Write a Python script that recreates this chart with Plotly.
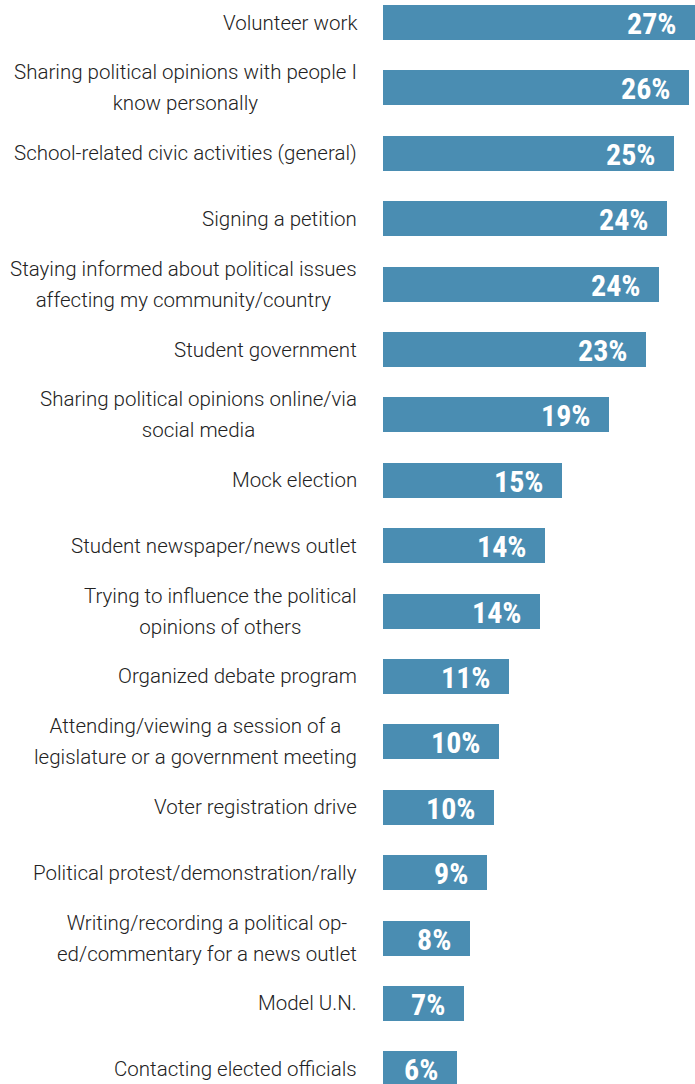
import plotly.graph_objects as go

# Share of respondents who took part in each civic activity (%)
activities = [
    "Volunteer work",
    "Sharing political opinions with people I<br>know personally",
    "School-related civic activities (general)",
    "Signing a petition",
    "Staying informed about political issues<br>affecting my community/country",
    "Student government",
    "Sharing political opinions online/via<br>social media",
    "Mock election",
    "Student newspaper/news outlet",
    "Trying to influence the political<br>opinions of others",
    "Organized debate program",
    "Attending/viewing a session of a<br>legislature or a government meeting",
    "Voter registration drive",
    "Political protest/demonstration/rally",
    "Writing/recording a political op-<br>ed/commentary for a news outlet",
    "Model U.N.",
    "Contacting elected officials",
]
shares = [26.85, 26.35, 25.04, 24.46, 23.77, 22.63, 19.42, 15.44, 13.95,
          13.52, 10.83, 10.02, 9.59, 8.99, 7.53, 7.01, 6.41]

BAR_COLOR = "#4A8DB2"
LABEL_FONT = "Roboto"
VALUE_FONT = "Roboto Condensed, Liberation Sans Narrow, Roboto, sans-serif"

positions = list(range(len(activities)))

fig = go.Figure(
    go.Bar(
        x=shares,
        y=positions,
        orientation="h",
        width=0.535,
        marker=dict(color=BAR_COLOR, line=dict(width=0)),
        hoverinfo="skip",
    )
)

annotations = []
for pos, name, val in zip(positions, activities, shares):
    # category label: block right-aligned to the bar start, lines centred
    lines = name.split("<br>")
    styled = "<br>".join(
        f"<span style='font-size:20.5px'>{ln}</span>" for ln in lines
    )
    annotations.append(dict(
        x=0, y=pos, xref="x", yref="y",
        text=styled, showarrow=False,
        xanchor="right", yanchor="middle", align="center",
        xshift=-24,
        font=dict(family=LABEL_FONT, size=24, color="#222222", weight=300),
    ))
    # value label inside the end of the bar
    annotations.append(dict(
        x=val, y=pos, xref="x", yref="y",
        text=f"<span style='font-stretch:condensed'>{round(val)}%</span>",
        showarrow=False,
        xanchor="right", yanchor="middle",
        xshift=-17, yshift=-1,
        font=dict(family=VALUE_FONT, size=30, color="white", weight="bold"),
    ))

fig.update_layout(
    width=695,
    height=1084,
    margin=dict(l=383, r=0, t=0, b=0, pad=0),
    paper_bgcolor="white",
    plot_bgcolor="white",
    showlegend=False,
    bargap=0,
    xaxis=dict(range=[0, 26.86], visible=False, fixedrange=True),
    yaxis=dict(range=[16.231, -0.344], visible=False, fixedrange=True),
    annotations=annotations,
)

fig.write_html("out.html")
